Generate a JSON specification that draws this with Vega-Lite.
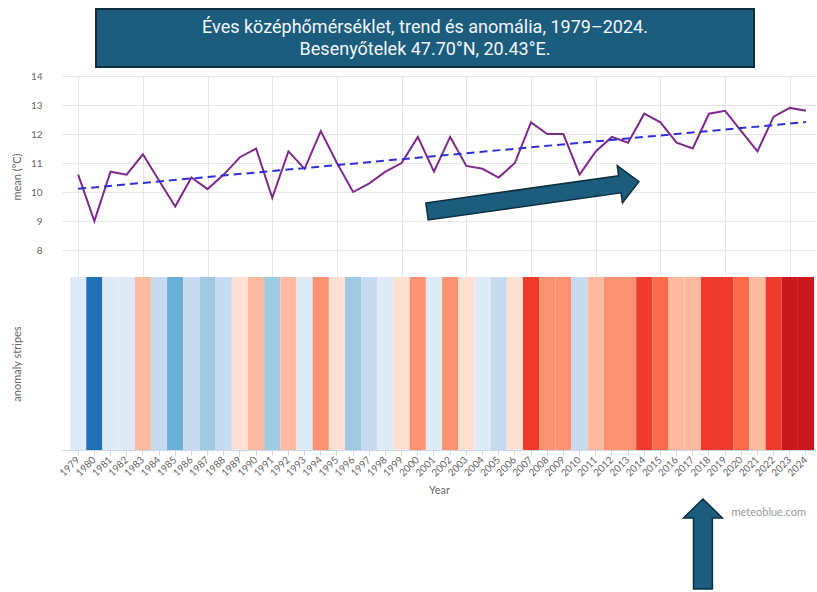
{
  "$schema": "https://vega.github.io/schema/vega-lite/v6.json",
  "padding": {"left": 11, "top": 8, "right": 0, "bottom": 0},
  "background": "white",
  "config": {
    "view": {"stroke": null},
    "font": "Lato",
    "axis": {"labelFont": "Lato", "titleFont": "Lato", "labelColor": "#666666", "titleColor": "#666666", "gridColor": "#e6e6e6", "labelFontSize": 10, "titleFontSize": 11, "titleFontWeight": "normal", "labelOverlap": false},
    "axisY": {"labelOverlap": false}
  },
  "datasets": {
    "annual": [
      {"year": 1979, "mean": 10.6, "anomalyClass": -1},
      {"year": 1980, "mean": 9.0, "anomalyClass": -5},
      {"year": 1981, "mean": 10.7, "anomalyClass": -1},
      {"year": 1982, "mean": 10.6, "anomalyClass": -1},
      {"year": 1983, "mean": 11.3, "anomalyClass": 2},
      {"year": 1984, "mean": 10.4, "anomalyClass": -2},
      {"year": 1985, "mean": 9.5, "anomalyClass": -4},
      {"year": 1986, "mean": 10.5, "anomalyClass": -2},
      {"year": 1987, "mean": 10.1, "anomalyClass": -3},
      {"year": 1988, "mean": 10.6, "anomalyClass": -2},
      {"year": 1989, "mean": 11.2, "anomalyClass": 1},
      {"year": 1990, "mean": 11.5, "anomalyClass": 2},
      {"year": 1991, "mean": 9.8, "anomalyClass": -3},
      {"year": 1992, "mean": 11.4, "anomalyClass": 2},
      {"year": 1993, "mean": 10.8, "anomalyClass": -1},
      {"year": 1994, "mean": 12.1, "anomalyClass": 3},
      {"year": 1995, "mean": 11.0, "anomalyClass": 1},
      {"year": 1996, "mean": 10.0, "anomalyClass": -3},
      {"year": 1997, "mean": 10.3, "anomalyClass": -2},
      {"year": 1998, "mean": 10.7, "anomalyClass": -1},
      {"year": 1999, "mean": 11.0, "anomalyClass": 1},
      {"year": 2000, "mean": 11.9, "anomalyClass": 3},
      {"year": 2001, "mean": 10.7, "anomalyClass": -1},
      {"year": 2002, "mean": 11.9, "anomalyClass": 3},
      {"year": 2003, "mean": 10.9, "anomalyClass": 1},
      {"year": 2004, "mean": 10.8, "anomalyClass": -1},
      {"year": 2005, "mean": 10.5, "anomalyClass": -2},
      {"year": 2006, "mean": 11.0, "anomalyClass": 1},
      {"year": 2007, "mean": 12.4, "anomalyClass": 5},
      {"year": 2008, "mean": 12.0, "anomalyClass": 3},
      {"year": 2009, "mean": 12.0, "anomalyClass": 3},
      {"year": 2010, "mean": 10.6, "anomalyClass": -2},
      {"year": 2011, "mean": 11.4, "anomalyClass": 2},
      {"year": 2012, "mean": 11.9, "anomalyClass": 3},
      {"year": 2013, "mean": 11.7, "anomalyClass": 3},
      {"year": 2014, "mean": 12.7, "anomalyClass": 5},
      {"year": 2015, "mean": 12.4, "anomalyClass": 4},
      {"year": 2016, "mean": 11.7, "anomalyClass": 2},
      {"year": 2017, "mean": 11.5, "anomalyClass": 2},
      {"year": 2018, "mean": 12.7, "anomalyClass": 5},
      {"year": 2019, "mean": 12.8, "anomalyClass": 5},
      {"year": 2020, "mean": 12.1, "anomalyClass": 4},
      {"year": 2021, "mean": 11.4, "anomalyClass": 2},
      {"year": 2022, "mean": 12.6, "anomalyClass": 5},
      {"year": 2023, "mean": 12.9, "anomalyClass": 6},
      {"year": 2024, "mean": 12.8, "anomalyClass": 6}
    ],
    "trend": [
      {"year": 1979, "trend": 10.11},
      {"year": 2024, "trend": 12.41}
    ]
  },
  "spacing": 3,
  "vconcat": [
    {
      "spacing": 0,
      "hconcat": [
        {
          "width": 33, "height": 58,
          "data": {"values": [{}]},
          "mark": {"type": "text"},
          "encoding": {"text": {"value": ""}}
        },
        {
          "width": 658, "height": 58,
          "data": {"values": [{}]},
          "view": {"fill": "#1c5d7e", "stroke": "#0e2f40", "strokeWidth": 2},
          "mark": {"type": "text", "font": "Roboto", "fontSize": 18, "color": "#f2f5f8", "lineHeight": 22, "align": "center", "baseline": "middle", "dy": -10},
          "encoding": {"text": {"value": ["Éves középhőmérséklet, trend és anomália, 1979–2024.", "Besenyőtelek 47.70°N, 20.43°E."]}}
        }
      ]
    },
    {
      "spacing": 0,
      "vconcat": [
        {
          "width": 754, "height": 201,
          "layer": [
            {
              "data": {"name": "annual"},
              "mark": {"type": "line", "color": "#7f2a8f", "strokeWidth": 2},
              "encoding": {
                "x": {"field": "year", "type": "quantitative",
                  "scale": {"domain": [1978, 2024.62], "nice": false, "zero": false},
                  "axis": {"values": [1979,1980,1981,1982,1983,1984,1985,1986,1987,1988,1989,1990,1991,1992,1993,1994,1995,1996,1997,1998,1999,2000,2001,2002,2003,2004,2005,2006,2007,2008,2009,2010,2011,2012,2013,2014,2015,2016,2017,2018,2019,2020,2021,2022,2023,2024],
                    "labels": false, "ticks": false, "domain": false, "title": null, "grid": true}},
                "y": {"field": "mean", "type": "quantitative",
                  "scale": {"domain": [7.07, 14], "nice": false, "zero": false},
                  "axis": {"values": [8, 9, 10, 11, 12, 13, 14], "tickCount": 7, "title": "mean (°C)", "ticks": false, "domain": false, "labelOverlap": false, "labelPadding": 20, "minExtent": 32, "maxExtent": 32, "titlePadding": 8}}
              }
            },
            {
              "data": {"name": "trend"},
              "mark": {"type": "line", "color": "#2f2fdc", "strokeWidth": 2, "strokeDash": [8, 5]},
              "encoding": {
                "x": {"field": "year", "type": "quantitative"},
                "y": {"field": "trend", "type": "quantitative",
                  "axis": {"values": [8, 9, 10, 11, 12, 13, 14], "tickCount": 7, "title": "mean (°C)", "ticks": false, "domain": false, "labelOverlap": false, "labelPadding": 20, "minExtent": 32, "maxExtent": 32, "titlePadding": 8}}
              }
            },
            {
              "data": {"values": [{}]},
              "mark": {"type": "point", "shape": "M-1,-0.08L0.82,-0.08L0.82,-0.175L1,0L0.82,0.175L0.82,0.08L-1,0.08Z", "size": 45796, "angle": 352, "filled": true, "fill": "#1c5d7e", "stroke": "#0e2f40", "strokeWidth": 1.5, "opacity": 1},
              "encoding": {
                "x": {"datum": 2007.12, "type": "quantitative"},
                "y": {"datum": 9.845, "type": "quantitative"}
              }
            }
          ]
        },
        {
          "width": 754, "height": 173,
          "data": {"name": "annual"},
          "mark": {"type": "bar"},
          "encoding": {
            "x": {"field": "year", "type": "ordinal",
              "scale": {"type": "band", "paddingInner": 0, "paddingOuter": 0.309, "align": 0.807},
              "axis": {"title": "Year", "labelAngle": -45, "labelAlign": "right", "labelBaseline": "middle", "labelOverlap": false, "domainColor": "#ccd6eb", "tickColor": "#ccd6eb", "tickSize": 5, "labelPadding": 3, "titlePadding": 7, "grid": false}},
            "y": {"datum": 1, "type": "quantitative",
              "scale": {"domain": [0, 1], "nice": false},
              "axis": {"title": "anomaly stripes", "labels": false, "ticks": false, "domain": false, "grid": false, "minExtent": 32, "maxExtent": 32, "titlePadding": 8}},
            "color": {"field": "anomalyClass", "type": "ordinal",
              "scale": {"domain": [-5, -4, -3, -2, -1, 1, 2, 3, 4, 5, 6], "range": ["#2171b5", "#6baed6", "#9ecae1", "#c6dbef", "#deebf7", "#fee0d2", "#fcbba1", "#fc9272", "#fb6a4a", "#ef3b2c", "#cb181d"]},
              "legend": null}
          }
        },
        {
          "width": 754, "height": 90,
          "data": {"values": [{}]},
          "layer": [
            {
              "mark": {"type": "point", "shape": "M-1,-0.21L0.58,-0.21L0.58,-0.433L1,0L0.58,0.433L0.58,0.21L-1,0.21Z", "size": 8100, "angle": 270, "filled": true, "fill": "#1c5d7e", "stroke": "#0e2f40", "strokeWidth": 1.5, "opacity": 1},
              "encoding": {
                "x": {"datum": 2017.63, "type": "quantitative", "scale": {"domain": [1978, 2024.62], "nice": false, "zero": false}, "axis": null},
                "y": {"datum": 0.5, "type": "quantitative", "scale": {"domain": [0, 1], "nice": false}, "axis": null}
              }
            },
            {
              "mark": {"type": "text", "align": "right", "baseline": "middle", "fontSize": 11, "color": "#999999", "font": "Lato"},
              "encoding": {
                "x": {"datum": 2024, "type": "quantitative"},
                "y": {"datum": 0.85, "type": "quantitative"},
                "text": {"value": "meteoblue.com"}
              }
            }
          ]
        }
      ]
    }
  ]
}
